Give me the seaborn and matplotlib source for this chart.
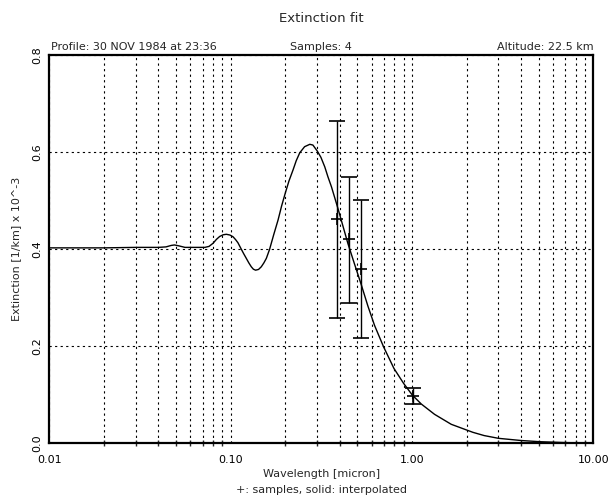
import matplotlib
matplotlib.use("Agg")
import matplotlib.pyplot as plt
import seaborn as sns
import pandas as pd
from matplotlib.ticker import FixedLocator, NullFormatter

# interpolated extinction curve
wavelength = [0.010, 0.020, 0.030, 0.040, 0.044, 0.047, 0.049, 0.052, 0.056,
              0.065, 0.072, 0.076, 0.080, 0.0835, 0.087, 0.091, 0.0947, 0.099,
              0.103, 0.1065, 0.1097, 0.1146, 0.118, 0.122, 0.126, 0.130,
              0.1335, 0.1373, 0.1425, 0.1476, 0.1525, 0.1574, 0.164, 0.1726,
              0.1826, 0.191, 0.200, 0.2097, 0.2208, 0.230, 0.2405, 0.2558,
              0.2733, 0.2842, 0.300, 0.3147, 0.3305, 0.3439, 0.3597, 0.3866,
              0.4006, 0.417, 0.4433, 0.4828, 0.5254, 0.5715, 0.622, 0.6973,
              0.795, 0.899, 1.004, 1.126, 1.332, 1.647, 2.167, 2.500, 3.000,
              4.000, 5.100, 7.000, 10.00]
extinction = [0.403, 0.403, 0.404, 0.404, 0.405, 0.408, 0.409, 0.407, 0.404,
              0.404, 0.404, 0.406, 0.4125, 0.4205, 0.4265, 0.430, 0.431, 0.4295,
              0.426, 0.420, 0.4136, 0.400, 0.391, 0.3814, 0.372, 0.364,
              0.359, 0.357, 0.3585, 0.364, 0.372, 0.3814, 0.400, 0.4295,
              0.4604, 0.4893, 0.5155, 0.5408, 0.5635, 0.5827, 0.599, 0.6116,
              0.6165, 0.615, 0.603, 0.5897, 0.570, 0.5497, 0.529, 0.490,
              0.470, 0.447, 0.412, 0.369, 0.327, 0.283, 0.243, 0.199,
              0.1546, 0.1237, 0.0996, 0.081, 0.0598, 0.0392, 0.0227, 0.016, 0.0103,
              0.0058, 0.0033, 0.0015, 0.0005]

# measured samples with uncertainty range
sample_wl = [0.3855, 0.451, 0.523, 1.012]
sample_ext = [0.462, 0.4206, 0.3588, 0.0975]
sample_lo = [0.2577, 0.290, 0.2165, 0.0804]
sample_hi = [0.6645, 0.550, 0.5017, 0.1134]

x_major = [0.01, 0.1, 1.0, 10.0]
x_major_labels = ["0.01", "0.10", "1.00", "10.00"]
x_minor = [m * d for d in [0.01, 0.1, 1.0] for m in range(2, 10)]
y_ticks = [0.0, 0.2, 0.4, 0.6, 0.8]
y_tick_labels = ["0.0", "0.2", "0.4", "0.6", "0.8"]

sns.set_style("white")
plt.rcParams['font.family'] = ['DejaVu Sans']

fig = plt.figure(figsize=(6.08, 4.97), dpi=100)
ax = fig.add_axes([0.0811, 0.108, 0.8947, 0.7807])

curve = pd.DataFrame({"wavelength": wavelength, "extinction": extinction})
sns.lineplot(data=curve, x="wavelength", y="extinction", color="black",
             linewidth=1.0, ax=ax, zorder=3)

yerr = [[e - lo for e, lo in zip(sample_ext, sample_lo)],
        [hi - e for e, hi in zip(sample_ext, sample_hi)]]
ax.errorbar(sample_wl, sample_ext, yerr=yerr, fmt='+', color='black',
            ms=8, mew=1.2, elinewidth=1.0, capsize=5.5, capthick=1.0, zorder=4)

ax.set_xscale('log')
ax.set_xlim(0.01, 10)
ax.set_ylim(0, 0.8)

ax.xaxis.set_major_locator(FixedLocator(x_major))
ax.set_xticklabels(x_major_labels)
ax.xaxis.set_minor_locator(FixedLocator(x_minor))
ax.xaxis.set_minor_formatter(NullFormatter())
ax.set_yticks(y_ticks)
ax.set_yticklabels(y_tick_labels, rotation=90, va='center')

ax.tick_params(axis='x', which='major', direction='inout', length=7, width=1.2,
               labelsize=8, pad=5, colors='black')
ax.tick_params(axis='x', which='minor', direction='inout', length=4, width=1.0,
               bottom=True)
ax.tick_params(axis='y', which='major', direction='in', length=0,
               labelsize=8, pad=5, colors='black')

ax.grid(which='both', axis='x', linestyle=(0, (2, 3)), color='black', linewidth=0.8)
ax.grid(which='major', axis='y', linestyle=(0, (2, 3)), color='black', linewidth=0.8)

for sp in ax.spines.values():
    sp.set_color('black')
    sp.set_linewidth(1.6)

ax.set_xlabel("Wavelength [micron]", fontsize=8, labelpad=3)
ax.set_ylabel("Extinction [1/km] x 10^-3", fontsize=8, labelpad=8)

fig.text(0.528, 1 - 18 / 497, "Extinction fit", ha='center', va='center', fontsize=9.5)
fig.text(0.0835, 1 - 47 / 497, "Profile: 30 NOV 1984 at 23:36", ha='left', va='center', fontsize=8)
fig.text(0.528, 1 - 47 / 497, "Samples: 4", ha='center', va='center', fontsize=8)
fig.text(0.9758, 1 - 47 / 497, "Altitude: 22.5 km", ha='right', va='center', fontsize=8)
fig.text(0.528, 1 - 490 / 497, "+: samples, solid: interpolated", ha='center', va='center', fontsize=8)

fig.savefig("out.png", dpi=100)
